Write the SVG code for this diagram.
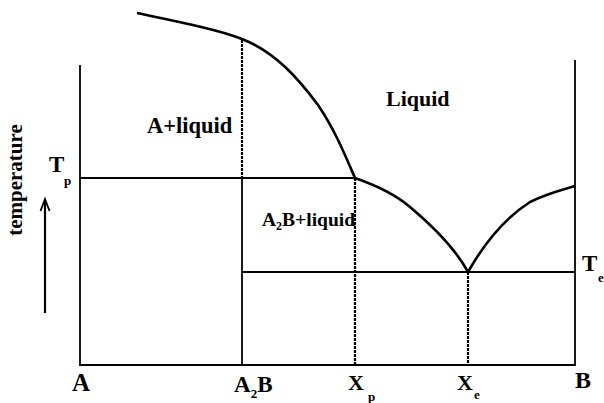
<svg xmlns="http://www.w3.org/2000/svg" width="604" height="403" viewBox="0 0 604 403">
<style>
.lbl{font-family:"Liberation Serif","DejaVu Serif","Times New Roman",serif;font-weight:700;fill:#000}
.ln{stroke:#000;fill:none;stroke-width:1.8}
.cv{stroke:#000;fill:none;stroke-width:2.6;stroke-linejoin:round}
.dash{stroke:#000;fill:none;stroke-width:2.2;stroke-dasharray:3 1}
</style>
<rect width="604" height="403" fill="#fff"/>
<g id="connectors">
<path class="ln" d="M80,65 V365 H575 V60"/>
<path class="ln" d="M80,178 H355" stroke-width="2.4"/>
<path class="ln" d="M242,178 V365"/>
<path class="ln" d="M242,272 H575" stroke-width="2.2"/>
<path class="dash" d="M242,40 V178"/>
<path class="dash" d="M355,178 V365"/>
<path class="dash" d="M468,272 V365"/>
<path class="cv" d="M137,13 C180,22 220,30 242,39 C275,52 298,78 318,105 C335,130 345,155 355,178"/>
<path class="cv" d="M355,178 C375,185 395,194 410,207 C435,228 455,248 468,272"/>
<path class="cv" d="M468,272 C485,242 505,218 530,202 C548,193 562,190 575,186"/>
<path d="M45,313 V202" stroke="#000" stroke-width="2.2" fill="none"/>
<path d="M40.5,211 L45,199 L49.5,211" stroke="#000" stroke-width="1.8" fill="none" stroke-linejoin="miter"/>
</g>
<g font-family="Liberation Serif, DejaVu Serif, serif" font-weight="700">
<g id="label-temperature"><text class="lbl" font-size="21" text-anchor="middle" transform="translate(22,180) rotate(-90)">temperature</text></g>
<g id="label-tp"><text class="lbl" x="49" y="172" font-size="23">T</text><text class="lbl" x="64" y="185" font-size="13">p</text></g>
<g id="label-te"><text class="lbl" x="582" y="271" font-size="23">T</text><text class="lbl" x="598" y="282" font-size="13">e</text></g>
<g id="region-a-liquid"><text class="lbl" x="147" y="133" font-size="22.5">A+liquid</text></g>
<g id="region-liquid"><text class="lbl" x="386" y="106" font-size="22">Liquid</text></g>
<g id="region-a2b-liquid"><text class="lbl" x="262" y="226" font-size="19.5">A<tspan font-size="12" dy="4">2</tspan><tspan dy="-4">B+liquid</tspan></text></g>
<g id="label-a"><text class="lbl" x="72" y="391" font-size="25">A</text></g>
<g id="label-a2b"><text class="lbl" x="234" y="392" font-size="23">A<tspan font-size="13" dy="6">2</tspan><tspan dy="-6">B</tspan></text></g>
<g id="label-xp"><text class="lbl" x="348" y="390" font-size="22">X</text><text class="lbl" x="368" y="401" font-size="13">p</text></g>
<g id="label-xe"><text class="lbl" x="457" y="390" font-size="22">X</text><text class="lbl" x="474" y="399" font-size="13">e</text></g>
<g id="label-b"><text class="lbl" x="575" y="388" font-size="24">B</text></g>
</g>
</svg>
